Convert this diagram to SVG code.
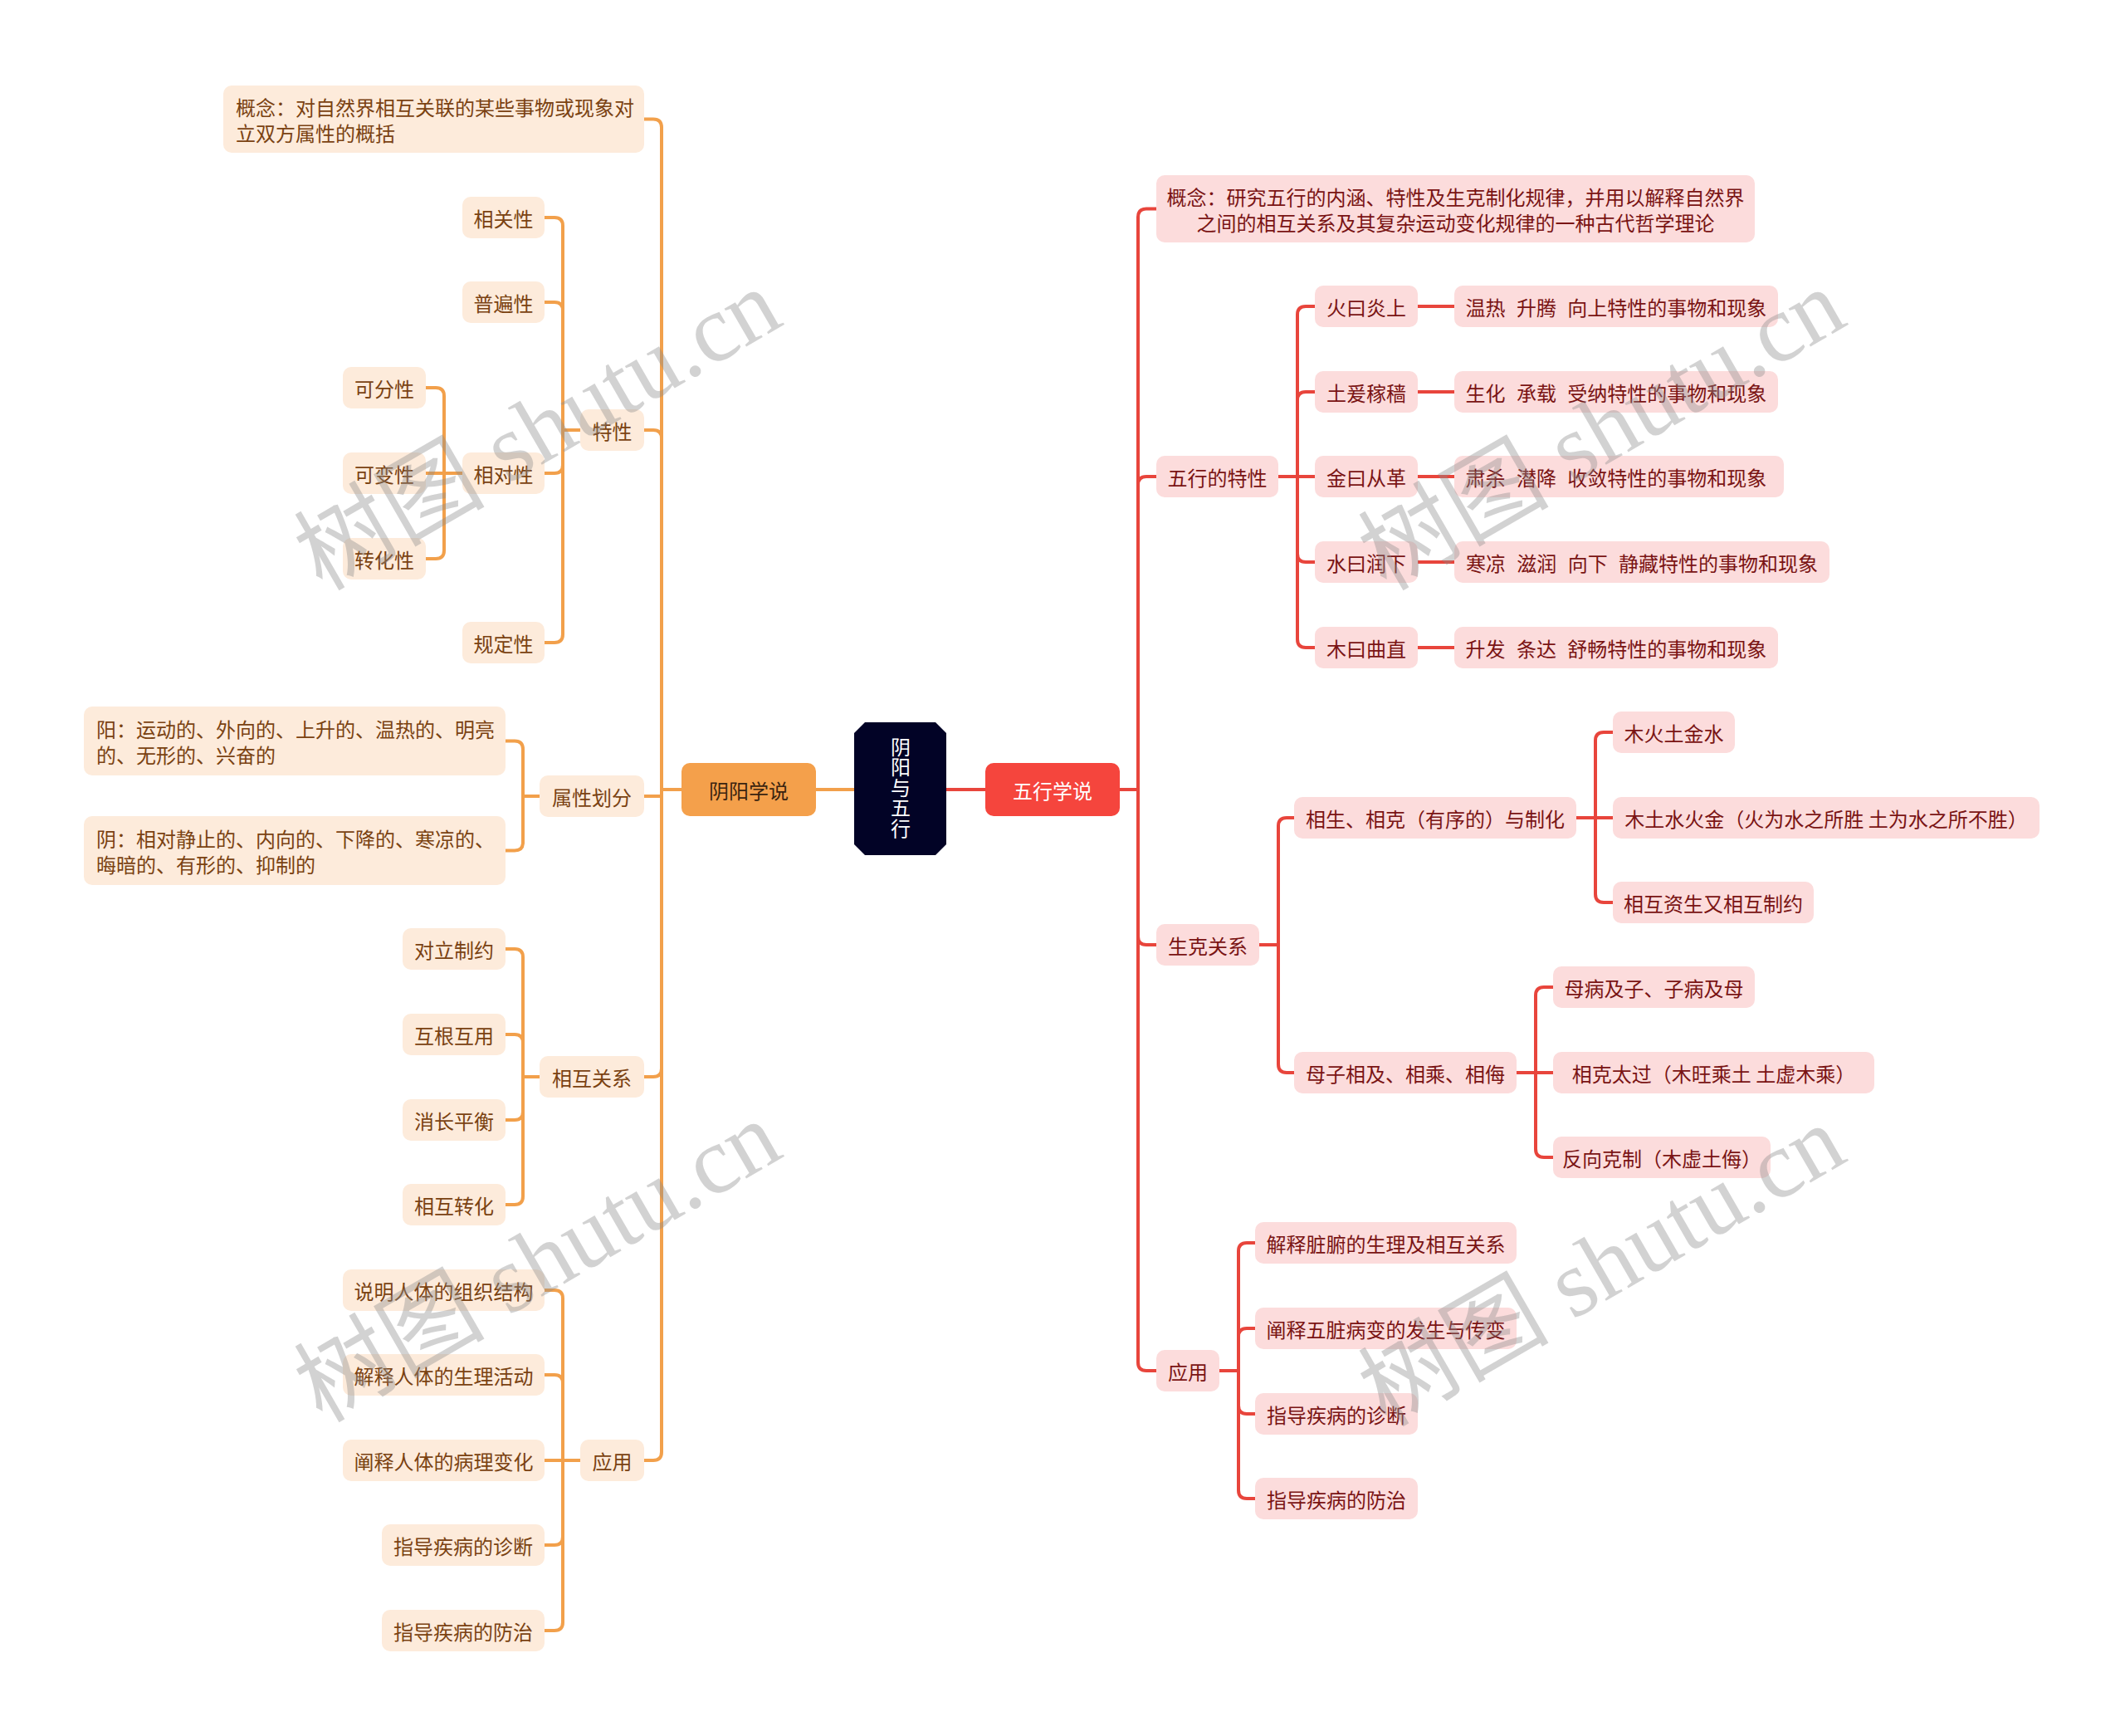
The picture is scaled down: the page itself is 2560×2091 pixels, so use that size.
<svg xmlns="http://www.w3.org/2000/svg" width="2560" height="2091" viewBox="0 0 2560 2091">
<style>
text{font-family:"Noto Sans CJK SC","Noto Sans",sans-serif;font-size:24px;dominant-baseline:central}
.lb{fill:#FDEBDB}
.lt{fill:#7A4212;text-anchor:middle}
.ltl{fill:#7A4212;text-anchor:start}
.rb{fill:#FCDCDC}
.rt{fill:#7A1414;text-anchor:middle}
.co{fill:none;stroke:#F2A04B;stroke-width:4;stroke-linecap:round}
.cr{fill:none;stroke:#E8453C;stroke-width:4;stroke-linecap:round}
.ws{word-spacing:8px}
.wm{font-family:"Liberation Serif","Noto Sans CJK SC",serif;font-size:115px;fill:#8c8c8c;opacity:0.38;text-anchor:middle}
</style>
<rect width="2560" height="2091" fill="#FFFFFF"/>
<g id="connectors">
<path class="co" d="M983,951 H1029"/>
<path class="cr" d="M1140,951 H1187"/>
<path class="co" d="M821,951 H797"/>
<path class="co" d="M797,951 V153.5 Q797,143.5 787,143.5 H776"/>
<path class="co" d="M797,951 V528 Q797,518 787,518 H776"/>
<path class="co" d="M797,951 V959 H776"/>
<path class="co" d="M797,951 V1287 Q797,1297 787,1297 H776"/>
<path class="co" d="M797,951 V1749 Q797,1759 787,1759 H776"/>
<path class="co" d="M699,518 H678"/>
<path class="co" d="M678,518 V272 Q678,262 668,262 H656"/>
<path class="co" d="M678,518 V374 Q678,364 668,364 H656"/>
<path class="co" d="M678,518 V560 Q678,570 668,570 H656"/>
<path class="co" d="M678,518 V764 Q678,774 668,774 H656"/>
<path class="co" d="M557,570 H513"/>
<path class="co" d="M535,570 V477 Q535,467 525,467 H513"/>
<path class="co" d="M535,570 V663 Q535,673 525,673 H513"/>
<path class="co" d="M650,959 H630"/>
<path class="co" d="M630,959 V902.5 Q630,892.5 620,892.5 H609"/>
<path class="co" d="M630,959 V1014.5 Q630,1024.5 620,1024.5 H609"/>
<path class="co" d="M650,1297 H630"/>
<path class="co" d="M630,1297 V1153 Q630,1143 620,1143 H609"/>
<path class="co" d="M630,1297 V1256 Q630,1246 620,1246 H609"/>
<path class="co" d="M630,1297 V1339 Q630,1349 620,1349 H609"/>
<path class="co" d="M630,1297 V1441 Q630,1451 620,1451 H609"/>
<path class="co" d="M699,1759 H656"/>
<path class="co" d="M678,1759 V1564 Q678,1554 668,1554 H656"/>
<path class="co" d="M678,1759 V1666 Q678,1656 668,1656 H656"/>
<path class="co" d="M678,1759 V1851 Q678,1861 668,1861 H656"/>
<path class="co" d="M678,1759 V1954 Q678,1964 668,1964 H656"/>
<path class="cr" d="M1349,951 H1371"/>
<path class="cr" d="M1371,951 V261.5 Q1371,251.5 1381,251.5 H1393"/>
<path class="cr" d="M1371,951 V584 Q1371,574 1381,574 H1393"/>
<path class="cr" d="M1371,951 V1128 Q1371,1138 1381,1138 H1393"/>
<path class="cr" d="M1371,951 V1641 Q1371,1651 1381,1651 H1393"/>
<path class="cr" d="M1540,574 H1584"/>
<path class="cr" d="M1563,574 V379 Q1563,369 1573,369 H1584"/>
<path class="cr" d="M1563,574 V482 Q1563,472 1573,472 H1584"/>
<path class="cr" d="M1563,574 V667 Q1563,677 1573,677 H1584"/>
<path class="cr" d="M1563,574 V770 Q1563,780 1573,780 H1584"/>
<path class="cr" d="M1708,369 H1752"/>
<path class="cr" d="M1708,472 H1752"/>
<path class="cr" d="M1708,574 H1752"/>
<path class="cr" d="M1708,677 H1752"/>
<path class="cr" d="M1708,780 H1752"/>
<path class="cr" d="M1517,1138 H1540"/>
<path class="cr" d="M1540,1138 V995 Q1540,985 1550,985 H1559"/>
<path class="cr" d="M1540,1138 V1282 Q1540,1292 1550,1292 H1559"/>
<path class="cr" d="M1899,985 H1943"/>
<path class="cr" d="M1922,985 V892 Q1922,882 1932,882 H1943"/>
<path class="cr" d="M1922,985 V1077 Q1922,1087 1932,1087 H1943"/>
<path class="cr" d="M1827,1292 H1871"/>
<path class="cr" d="M1850,1292 V1199 Q1850,1189 1860,1189 H1871"/>
<path class="cr" d="M1850,1292 V1384 Q1850,1394 1860,1394 H1871"/>
<path class="cr" d="M1469,1651 H1492"/>
<path class="cr" d="M1492,1651 V1507 Q1492,1497 1502,1497 H1512"/>
<path class="cr" d="M1492,1651 V1610 Q1492,1600 1502,1600 H1512"/>
<path class="cr" d="M1492,1651 V1693 Q1492,1703 1502,1703 H1512"/>
<path class="cr" d="M1492,1651 V1795 Q1492,1805 1502,1805 H1512"/>
</g>
<g id="root"><path d="M1042,870 H1127 L1140,883 V1017 L1127,1030 H1042 L1029,1017 V883 Z" fill="#020326"/>
<text x="1085" y="949" fill="#FFFFFF" style="writing-mode:vertical-rl;text-anchor:middle;letter-spacing:0.5px">阴阳与五行</text></g>
<g id="yinyang"><rect x="821" y="919" width="162" height="64" rx="10" fill="#F4A04B"/><text x="902" y="951" fill="#3A2410" text-anchor="middle">阴阳学说</text></g>
<g id="wuxing"><rect x="1187" y="919" width="162" height="64" rx="10" fill="#F5453D"/><text x="1268" y="951" fill="#FFFFFF" text-anchor="middle">五行学说</text></g>
<g id="l-concept"><rect class="lb" x="269" y="103" width="507" height="81" rx="10"/><text class="ltl"><tspan x="284" y="128">概念：对自然界相互关联的某些事物或现象对</tspan><tspan x="284" y="159">立双方属性的概括</tspan></text></g>
<g id="l-texing"><rect class="lb" x="699" y="493" width="77" height="50" rx="10"/><text class="lt" x="737.5" y="518">特性</text></g>
<g id="l-xiangguan"><rect class="lb" x="557" y="237" width="99" height="50" rx="10"/><text class="lt" x="606.5" y="262">相关性</text></g>
<g id="l-pubian"><rect class="lb" x="557" y="339" width="99" height="50" rx="10"/><text class="lt" x="606.5" y="364">普遍性</text></g>
<g id="l-xiangdui"><rect class="lb" x="557" y="545" width="99" height="50" rx="10"/><text class="lt" x="606.5" y="570">相对性</text></g>
<g id="l-guiding"><rect class="lb" x="557" y="749" width="99" height="50" rx="10"/><text class="lt" x="606.5" y="774">规定性</text></g>
<g id="l-kefen"><rect class="lb" x="413" y="442" width="100" height="50" rx="10"/><text class="lt" x="463" y="467">可分性</text></g>
<g id="l-kebian"><rect class="lb" x="413" y="545" width="100" height="50" rx="10"/><text class="lt" x="463" y="570">可变性</text></g>
<g id="l-zhuanhua"><rect class="lb" x="413" y="648" width="100" height="50" rx="10"/><text class="lt" x="463" y="673">转化性</text></g>
<g id="l-shuxing"><rect class="lb" x="650" y="934" width="126" height="50" rx="10"/><text class="lt" x="713" y="959">属性划分</text></g>
<g id="l-yang"><rect class="lb" x="101" y="851" width="508" height="83" rx="10"/><text class="ltl"><tspan x="116" y="877">阳：运动的、外向的、上升的、温热的、明亮</tspan><tspan x="116" y="908">的、无形的、兴奋的</tspan></text></g>
<g id="l-yin"><rect class="lb" x="101" y="983" width="508" height="83" rx="10"/><text class="ltl"><tspan x="116" y="1009">阴：相对静止的、内向的、下降的、寒凉的、</tspan><tspan x="116" y="1040">晦暗的、有形的、抑制的</tspan></text></g>
<g id="l-xianghu"><rect class="lb" x="650" y="1272" width="126" height="50" rx="10"/><text class="lt" x="713" y="1297">相互关系</text></g>
<g id="l-duili"><rect class="lb" x="485" y="1118" width="124" height="50" rx="10"/><text class="lt" x="547" y="1143">对立制约</text></g>
<g id="l-hugen"><rect class="lb" x="485" y="1221" width="124" height="50" rx="10"/><text class="lt" x="547" y="1246">互根互用</text></g>
<g id="l-xiaozhang"><rect class="lb" x="485" y="1324" width="124" height="50" rx="10"/><text class="lt" x="547" y="1349">消长平衡</text></g>
<g id="l-xianghuzh"><rect class="lb" x="485" y="1426" width="124" height="50" rx="10"/><text class="lt" x="547" y="1451">相互转化</text></g>
<g id="l-yingyong"><rect class="lb" x="699" y="1734" width="77" height="50" rx="10"/><text class="lt" x="737.5" y="1759">应用</text></g>
<g id="l-yy1"><rect class="lb" x="413" y="1529" width="243" height="50" rx="10"/><text class="lt" x="534.5" y="1554">说明人体的组织结构</text></g>
<g id="l-yy2"><rect class="lb" x="413" y="1631" width="243" height="50" rx="10"/><text class="lt" x="534.5" y="1656">解释人体的生理活动</text></g>
<g id="l-yy3"><rect class="lb" x="413" y="1734" width="243" height="50" rx="10"/><text class="lt" x="534.5" y="1759">阐释人体的病理变化</text></g>
<g id="l-yy4"><rect class="lb" x="460" y="1836" width="196" height="50" rx="10"/><text class="lt" x="558" y="1861">指导疾病的诊断</text></g>
<g id="l-yy5"><rect class="lb" x="460" y="1939" width="196" height="50" rx="10"/><text class="lt" x="558" y="1964">指导疾病的防治</text></g>
<g id="r-concept"><rect class="rb" x="1393" y="211" width="721" height="81" rx="10"/><text class="rt"><tspan x="1753.5" y="236">概念：研究五行的内涵、特性及生克制化规律，并用以解释自然界</tspan><tspan x="1753.5" y="267">之间的相互关系及其复杂运动变化规律的一种古代哲学理论</tspan></text></g>
<g id="r-texing"><rect class="rb" x="1393" y="549" width="147" height="50" rx="10"/><text class="rt" x="1466.5" y="574">五行的特性</text></g>
<g id="r-huo"><rect class="rb" x="1584" y="344" width="124" height="50" rx="10"/><text class="rt" x="1646" y="369">火曰炎上</text></g>
<g id="r-tu"><rect class="rb" x="1584" y="447" width="124" height="50" rx="10"/><text class="rt" x="1646" y="472">土爰稼穑</text></g>
<g id="r-jin"><rect class="rb" x="1584" y="549" width="124" height="50" rx="10"/><text class="rt" x="1646" y="574">金曰从革</text></g>
<g id="r-shui"><rect class="rb" x="1584" y="652" width="124" height="50" rx="10"/><text class="rt" x="1646" y="677">水曰润下</text></g>
<g id="r-mu"><rect class="rb" x="1584" y="755" width="124" height="50" rx="10"/><text class="rt" x="1646" y="780">木曰曲直</text></g>
<g id="r-huo2"><rect class="rb" x="1752" y="344" width="390" height="50" rx="10"/><text class="rt ws" x="1947" y="369">温热 升腾 向上特性的事物和现象</text></g>
<g id="r-tu2"><rect class="rb" x="1752" y="447" width="390" height="50" rx="10"/><text class="rt ws" x="1947" y="472">生化 承载 受纳特性的事物和现象</text></g>
<g id="r-jin2"><rect class="rb" x="1752" y="549" width="397" height="50" rx="10"/><text class="rt ws" x="1947" y="574">肃杀 潜降 收敛特性的事物和现象</text></g>
<g id="r-shui2"><rect class="rb" x="1752" y="652" width="452" height="50" rx="10"/><text class="rt ws" x="1978" y="677">寒凉 滋润 向下 静藏特性的事物和现象</text></g>
<g id="r-mu2"><rect class="rb" x="1752" y="755" width="390" height="50" rx="10"/><text class="rt ws" x="1947" y="780">升发 条达 舒畅特性的事物和现象</text></g>
<g id="r-shengke"><rect class="rb" x="1393" y="1113" width="124" height="50" rx="10"/><text class="rt" x="1455" y="1138">生克关系</text></g>
<g id="r-xiangsheng"><rect class="rb" x="1559" y="960" width="340" height="50" rx="10"/><text class="rt" x="1729" y="985">相生、相克（有序的）与制化</text></g>
<g id="r-muzi"><rect class="rb" x="1559" y="1267" width="268" height="50" rx="10"/><text class="rt" x="1693" y="1292">母子相及、相乘、相侮</text></g>
<g id="r-xs1"><rect class="rb" x="1943" y="857" width="147" height="50" rx="10"/><text class="rt" x="2016.5" y="882">木火土金水</text></g>
<g id="r-xs2"><rect class="rb" x="1943" y="960" width="514" height="50" rx="10"/><text class="rt" x="2200" y="985">木土水火金（火为水之所胜 土为水之所不胜）</text></g>
<g id="r-xs3"><rect class="rb" x="1943" y="1062" width="242" height="50" rx="10"/><text class="rt" x="2064" y="1087">相互资生又相互制约</text></g>
<g id="r-mz1"><rect class="rb" x="1871" y="1164" width="243" height="50" rx="10"/><text class="rt" x="1992.5" y="1189">母病及子、子病及母</text></g>
<g id="r-mz2"><rect class="rb" x="1871" y="1267" width="387" height="50" rx="10"/><text class="rt" x="2064.5" y="1292">相克太过（木旺乘土 土虚木乘）</text></g>
<g id="r-mz3"><rect class="rb" x="1871" y="1369" width="262" height="50" rx="10"/><text class="rt" x="2002" y="1394">反向克制（木虚土侮）</text></g>
<g id="r-yingyong"><rect class="rb" x="1393" y="1626" width="76" height="50" rx="10"/><text class="rt" x="1431" y="1651">应用</text></g>
<g id="r-yy1"><rect class="rb" x="1512" y="1472" width="315" height="50" rx="10"/><text class="rt" x="1669.5" y="1497">解释脏腑的生理及相互关系</text></g>
<g id="r-yy2"><rect class="rb" x="1512" y="1575" width="315" height="50" rx="10"/><text class="rt" x="1669.5" y="1600">阐释五脏病变的发生与传变</text></g>
<g id="r-yy3"><rect class="rb" x="1512" y="1678" width="196" height="50" rx="10"/><text class="rt" x="1610" y="1703">指导疾病的诊断</text></g>
<g id="r-yy4"><rect class="rb" x="1512" y="1780" width="196" height="50" rx="10"/><text class="rt" x="1610" y="1805">指导疾病的防治</text></g>
<g id="watermarks">
<text class="wm" x="648" y="518" transform="rotate(-30 648 518)">树图 shutu.cn</text>
<text class="wm" x="1930" y="518" transform="rotate(-30 1930 518)">树图 shutu.cn</text>
<text class="wm" x="648" y="1520" transform="rotate(-30 648 1520)">树图 shutu.cn</text>
<text class="wm" x="1930" y="1525" transform="rotate(-30 1930 1525)">树图 shutu.cn</text>
</g>
</svg>
